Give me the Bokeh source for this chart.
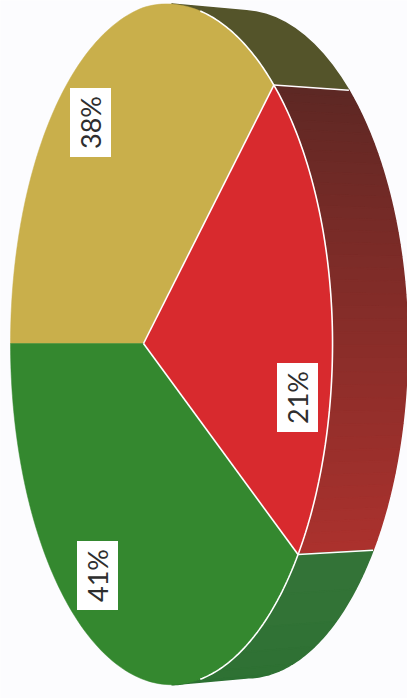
import numpy as np
from bokeh.plotting import figure
from bokeh.models import Range1d
from bokeh.core.properties import value
from bokeh.embed import file_html
from bokeh.resources import INLINE

categories = ["Yellow", "Red", "Green"]
shares = [38, 21, 41]
labels = ["38%", "21%", "41%"]

top_colors = ["#c9af4b", "#d82a2e", "#34882f"]
label_x = [90, 297, 97]
label_y = [122, 397, 575]

# picture geometry of the tilted disc (perspective projection of a circle)
HUB_X, HUB_Y = 143, 343
RADIUS_Y = 336
DEPTH_X, DEPTH_Y = 75, 0.98
C = -0.174
A = 131.26
BEND = 10
WALL_END = np.radians(80)
RIM_END = np.radians(70)


def project(theta):
    u, v = np.cos(theta), np.sin(theta)
    w = 1 + C * u
    bend = BEND * np.clip(u, 0, None) * np.clip(v, 0, None)
    return (A * u + HUB_X) / w, HUB_Y - RADIUS_Y * v / w + bend


def back(x, y):
    return x + DEPTH_X, HUB_Y + (y - HUB_Y) * DEPTH_Y


W, H = 407, 698
p = figure(width=W, height=H, x_range=Range1d(0, W), y_range=Range1d(H, 0),
           toolbar_location=None, output_backend="svg", min_border=0,
           background_fill_color="#fcfcfe", border_fill_color="#fcfcfe",
           outline_line_color=None,
           styles={"position": "absolute", "left": "0px", "top": "0px"})
p.axis.visible = False
p.grid.visible = False

# slice boundaries: start at the left (pi) and run clockwise on the page
fracs = np.cumsum([0] + shares) / sum(shares)
bounds = np.pi - fracs * 2 * np.pi


def wall(t0, t1, c0, c1, n=24):
    ts = np.linspace(t0, t1, n + 1)
    c0, c1 = np.array(c0), np.array(c1)
    xs, ys, cols = [], [], []
    for i in range(n):
        seg = np.linspace(ts[i], ts[i + 1], 12)
        fx, fy = project(seg)
        bx, by = back(fx, fy)
        xs.append(list(fx) + list(bx[::-1]))
        ys.append(list(fy) + list(by[::-1]))
        c = (c0 + (c1 - c0) * (i + .5) / n).astype(int)
        cols.append("#%02x%02x%02x" % tuple(c))
    p.patches(xs, ys, fill_color=cols, line_color=cols, line_width=1.5)


# side walls
wall(WALL_END, bounds[1], (84, 84, 42), (84, 84, 42), n=1)
wall(bounds[1], bounds[2], (92, 40, 36), (172, 50, 46), n=40)
wall(bounds[2], -WALL_END, (52, 116, 56), (44, 112, 50), n=6)

# separators between wall segments
for b in bounds[1:3]:
    fx, fy = project(np.array([b]))
    bx, by = back(fx, fy)
    p.line([fx[0], bx[0]], [fy[0], by[0]], line_color="white", line_width=1.6)

# top face
for i in range(3):
    t = np.linspace(bounds[i], bounds[i + 1], 120)
    x, y = project(t)
    p.patch([HUB_X] + list(x), [HUB_Y] + list(y), fill_color=top_colors[i],
            line_color=top_colors[i], line_width=0.5)

# white rim and spokes
t = np.linspace(RIM_END, -RIM_END, 200)
x, y = project(t)
p.line(x, y, line_color="white", line_width=1.6)
for b in bounds[1:3]:
    fx, fy = project(np.array([b]))
    p.line([HUB_X, fx[0]], [HUB_Y, fy[0]], line_color="white", line_width=1.6)

# labels
p.rect(label_x, label_y, width=41, height=69, fill_color="white", line_color=None)
p.text(label_x, label_y, text=labels, angle=np.pi / 2, text_color="#2e2e2e",
       text_font=value("Lato"), text_font_size="27px", text_align="center",
       text_baseline="middle")

open("out.html", "w").write(file_html(p, INLINE))
